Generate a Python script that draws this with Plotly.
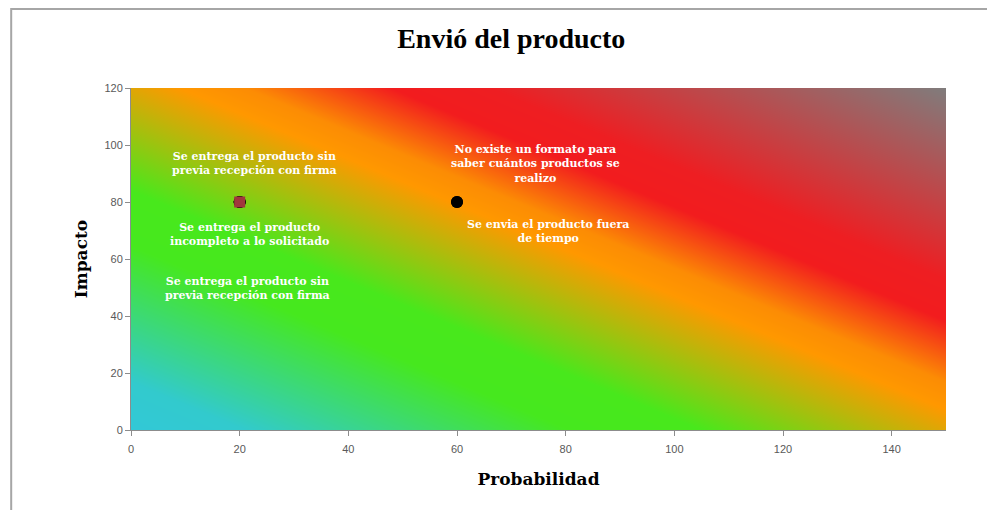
import plotly.graph_objects as go

# Risks: probability, impact and description
risk_prob = [20, 20, 20, 60, 60]
risk_impact = [80, 80, 80, 80, 80]
risk_text = [
    "Se entrega el producto sin<br>previa recepción con firma",
    "Se entrega el producto<br>incompleto a lo solicitado",
    "Se entrega el producto sin<br>previa recepción con firma",
    "No existe un formato para<br>saber cuántos productos se<br>realizo",
    "Se envia el producto fuera<br>de tiempo",
]
# label offsets (px) from each point
label_shift = [(15, 39), (10, -32), (8, -86), (78, 38), (91, -29)]

x_ticks = [0, 20, 40, 60, 80, 100, 120, 140]
y_ticks = [0, 20, 40, 60, 80, 100, 120]

# Background risk gradient: corner values, bilinearly smoothed
bg_x = [0, 150]
bg_y = [0, 120]
bg_z = [[0, 1], [1, 2]]
bg_scale = [
    [0.0, "rgb(50,200,215)"],
    [0.07, "rgb(50,202,205)"],
    [0.27, "rgb(70,232,30)"],
    [0.35, "rgb(72,232,28)"],
    [0.53, "rgb(255,152,0)"],
    [0.57, "rgb(252,140,4)"],
    [0.66, "rgb(242,28,30)"],
    [0.72, "rgb(238,30,34)"],
    [1.0, "rgb(128,124,124)"],
]

fig = go.Figure()
fig.add_trace(go.Heatmap(
    x=bg_x, y=bg_y, z=bg_z, zmin=0, zmax=2, zsmooth="best",
    colorscale=bg_scale, showscale=False, hoverinfo="skip",
))
fig.add_trace(go.Scatter(
    x=risk_prob, y=risk_impact, mode="markers",
    marker=dict(symbol="circle", size=12, color="black"),
    hoverinfo="skip", showlegend=False,
))
fig.add_trace(go.Scatter(
    x=risk_prob[:1], y=risk_impact[:1], mode="markers",
    marker=dict(symbol="square", size=11, color="rgb(160,55,60)",
                line=dict(width=0)),
    hoverinfo="skip", showlegend=False,
))

for px, py, txt, (dx, dy) in zip(risk_prob, risk_impact, risk_text, label_shift):
    fig.add_annotation(
        x=px, y=py, text=f"<b>{txt}</b>", showarrow=False,
        xshift=dx, yshift=dy, align="center",
        font=dict(family="DejaVu Serif", size=11, color="white"),
    )

axis_common = dict(
    showgrid=False, zeroline=False, showline=True, linecolor="#8c8c8c", linewidth=1,
    ticks="outside", ticklen=5, tickcolor="#8c8c8c",
    tickfont=dict(family="Liberation Sans", size=11, color="#595959"),
)
fig.update_xaxes(range=[0, 150], tickvals=x_ticks, ticklabelstandoff=4, **axis_common,
                 title=dict(text="<b>Probabilidad</b>", standoff=18,
                            font=dict(family="DejaVu Serif", size=17, color="black")))
fig.update_yaxes(range=[0, 120], tickvals=y_ticks, **axis_common,
                 title=dict(text="<b>Impacto</b>", standoff=12,
                            font=dict(family="DejaVu Serif", size=17, color="black")))

# outer chart frame
fig.add_shape(type="rect", xref="paper", yref="paper",
              x0=-0.147, x1=1.2, y0=-0.4, y1=1.231,
              line=dict(color="#a6a6a6", width=2), fillcolor="rgba(0,0,0,0)", layer="below")

fig.update_layout(
    width=987, height=510,
    margin=dict(l=131, r=41, t=88, b=80),
    paper_bgcolor="white", plot_bgcolor="white",
    title=dict(text="<b>Envió del producto</b>", x=0.518, xanchor="center",
               y=0.925, yanchor="middle",
               font=dict(family="Liberation Serif", size=28, color="black")),
    showlegend=False,
)

fig.write_html("out.html")
